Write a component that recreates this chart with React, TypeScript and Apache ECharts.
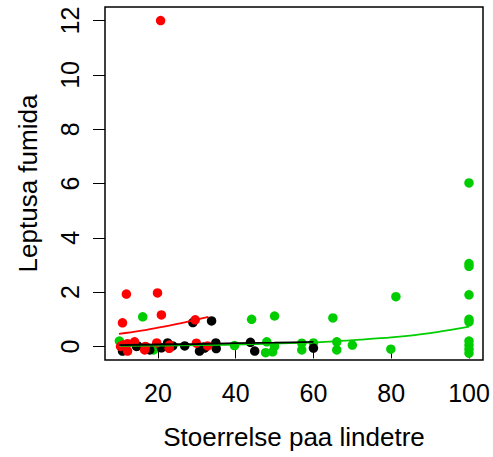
import React, { useEffect, useRef } from "react";
import * as echarts from "echarts";

// Tree size (x) vs. Leptusa fumida count (y), three groups with jittered counts
const redPoints: [number, number][] = [
  [20.7, 12.0], [11.9, 1.93], [19.9, 1.97], [20.9, 1.16], [10.9, 0.87], [29.6, 0.98],
  [10.4, 0.0], [11.0, 0.05], [12.2, 0.1], [12.2, -0.17], [14.0, 0.17], [16.6, -0.13],
  [16.8, 0.0], [19.7, 0.13], [22.9, -0.07], [23.0, 0.05], [29.9, 0.12], [32.8, 0.02],
];

const blackPoints: [number, number][] = [
  [29.0, 0.88], [33.8, 0.94], [10.9, -0.17], [14.5, 0.0], [14.8, 0.02], [17.9, -0.13],
  [17.4, -0.06], [20.9, -0.05], [22.5, 0.13], [23.8, 0.02], [26.9, 0.02], [30.7, -0.17],
  [31.8, -0.02], [32.0, -0.06], [34.9, 0.13], [35.0, -0.08], [43.8, 0.15], [44.9, -0.17],
  [60.0, -0.06],
];

const greenPoints: [number, number][] = [
  [10.1, 0.2], [16.1, 1.09], [18.9, -0.13], [39.7, 0.03], [44.1, 1.0], [50.0, 1.12],
  [65.0, 1.05], [48.0, 0.17], [47.7, -0.23], [50.0, 0.0], [49.5, -0.2], [57.0, 0.12],
  [57.0, -0.13], [60.0, 0.13], [66.0, 0.17], [66.0, -0.13], [70.0, 0.05], [81.2, 1.83],
  [79.9, -0.1], [100, 6.02], [100, 3.05], [100, 2.95], [100, 1.9], [100, 1.0],
  [100, 0.9], [100, 0.2], [100, 0.05], [100, -0.1], [100, -0.25],
];

// Fitted curves for each group
const redFit: [number, number][] = [
  [10, 0.46], [15, 0.56], [20, 0.69], [25, 0.83], [30, 0.99], [33, 1.09],
];
const blackFit: [number, number][] = [
  [10, 0.05], [20, 0.07], [30, 0.09], [40, 0.12], [50, 0.14], [60, 0.17],
];
const greenFit: [number, number][] = [
  [10, 0.02], [30, 0.045], [45, 0.085], [60, 0.15], [72, 0.25], [80, 0.33],
  [90, 0.49], [100, 0.73],
];

const xTicks = [20, 40, 60, 80, 100];
const yTicks = [0, 2, 4, 6, 8, 10, 12];

const RED = "#ff0000";
const BLACK = "#000000";
const GREEN = "#00cd00";
const FONT = "Liberation Sans, Arial, Helvetica, sans-serif";

export default function App() {
  const ref = useRef<HTMLDivElement>(null);

  useEffect(() => {
    if (!ref.current) return;
    const chart = echarts.init(ref.current, null, { renderer: "svg" });

    const scatter = (name: string, data: [number, number][], color: string) => ({
      name,
      type: "scatter",
      data,
      symbol: "circle",
      symbolSize: 9.5,
      itemStyle: { color, opacity: 1 },
      z: 2,
    });
    const fit = (name: string, data: [number, number][], color: string) => ({
      name,
      type: "line",
      data,
      smooth: 0.3,
      showSymbol: false,
      symbol: "none",
      lineStyle: { color, width: 1.8 },
      z: 3,
    });

    chart.setOption({
      animation: false,
      backgroundColor: "#ffffff",
      textStyle: { fontFamily: FONT },
      grid: {
        left: 105,
        right: 10,
        top: 7,
        bottom: 97,
        show: true,
        borderColor: "#000",
        borderWidth: 1.5,
        backgroundColor: "transparent",
      },
      xAxis: {
        type: "value",
        min: 6.4,
        max: 103.6,
        name: "Stoerrelse paa lindetre",
        nameLocation: "middle",
        nameGap: 64,
        nameTextStyle: { fontSize: 26, color: "#000", fontFamily: FONT },
        axisLine: { show: false },
        axisTick: {
          show: true,
          length: 12,
          customValues: xTicks,
          lineStyle: { color: "#000", width: 1 },
        },
        axisLabel: {
          customValues: xTicks,
          margin: 20,
          fontSize: 25,
          color: "#000",
          fontFamily: FONT,
        },
        splitLine: { show: false },
      },
      yAxis: {
        type: "value",
        min: -0.5,
        max: 12.5,
        name: "Leptusa fumida",
        nameLocation: "middle",
        nameGap: 64,
        nameTextStyle: { fontSize: 26, color: "#000", fontFamily: FONT },
        axisLine: { show: false },
        axisTick: {
          show: true,
          length: 12,
          customValues: yTicks,
          lineStyle: { color: "#000", width: 1 },
        },
        axisLabel: {
          customValues: yTicks,
          rotate: 90,
          margin: 23,
          fontSize: 25,
          color: "#000",
          fontFamily: FONT,
        },
        splitLine: { show: false },
      },
      series: [
        scatter("green", greenPoints, GREEN),
        scatter("black", blackPoints, BLACK),
        scatter("red", redPoints, RED),
        fit("greenFit", greenFit, GREEN),
        fit("redFit", redFit, RED),
        fit("blackFit", blackFit, BLACK),
      ],
    });

    return () => chart.dispose();
  }, []);

  return (
    <div
      ref={ref}
      style={{ position: "fixed", left: 0, top: 0, width: 493, height: 457, background: "#fff" }}
    />
  );
}
